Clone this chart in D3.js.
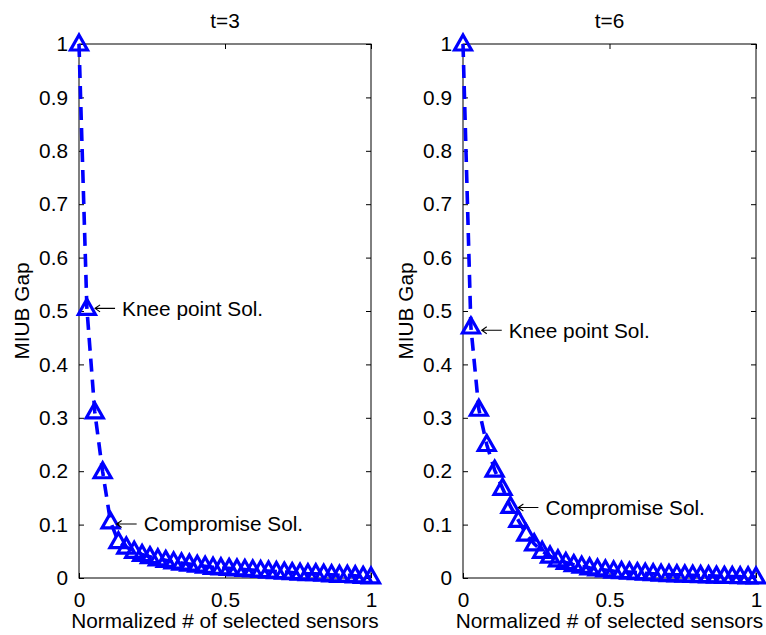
<!DOCTYPE html>
<html>
<head>
<meta charset="utf-8">
<script src="https://cdn.jsdelivr.net/npm/d3@7"></script>
<style>
  html, body { margin: 0; padding: 0; background: #fff; }
  svg text { font-family: "Liberation Sans", Arial, Helvetica, sans-serif; fill: #000; }
</style>
</head>
<body>
<svg id="chart" width="766" height="635"></svg>
<script>
// ---- data ----
const xNorm = [0, 0.027, 0.054, 0.081, 0.108, 0.135, 0.162, 0.189, 0.216, 0.243,
  0.270, 0.297, 0.324, 0.351, 0.378, 0.405, 0.432, 0.459, 0.486, 0.514,
  0.541, 0.568, 0.595, 0.622, 0.649, 0.676, 0.703, 0.730, 0.757, 0.784,
  0.811, 0.838, 0.865, 0.892, 0.919, 0.946, 0.973, 1.0];

const gapT3 = [1.0, 0.505, 0.311, 0.199, 0.105, 0.068, 0.058, 0.050, 0.044, 0.040,
  0.036, 0.033, 0.030, 0.028, 0.026, 0.024, 0.022, 0.020, 0.019, 0.018,
  0.017, 0.016, 0.015, 0.014, 0.013, 0.012, 0.011, 0.010, 0.009, 0.008,
  0.008, 0.007, 0.006, 0.005, 0.005, 0.004, 0.003, 0.002];

const gapT6 = [1.0, 0.470, 0.316, 0.250, 0.202, 0.168, 0.134, 0.108, 0.082, 0.064,
  0.050, 0.041, 0.034, 0.029, 0.025, 0.022, 0.019, 0.017, 0.015, 0.013,
  0.012, 0.011, 0.010, 0.009, 0.008, 0.007, 0.0065, 0.006, 0.0055, 0.005,
  0.0045, 0.004, 0.0035, 0.003, 0.0028, 0.0025, 0.0022, 0.002];

const panelTitles = ["t=3", "t=6"];
const xTicks = [0, 0.5, 1];
const xTickLabels = ["0", "0.5", "1"];
const yTicks = [0, 0.1, 0.2, 0.3, 0.4, 0.5, 0.6, 0.7, 0.8, 0.9, 1];
const yTickLabels = ["0", "0.1", "0.2", "0.3", "0.4", "0.5", "0.6", "0.7", "0.8", "0.9", "1"];
const xLabel = "Normalized # of selected sensors";
const yLabel = "MIUB Gap";

// annotations: [x, y, text] in data units (arrow-tip positions)
const notesT3 = [[0.055, 0.505, "Knee point Sol."], [0.129, 0.101, "Compromise Sol."]];
const notesT6 = [[0.064, 0.464, "Knee point Sol."], [0.189, 0.132, "Compromise Sol."]];

// ---- layout ----
const panels = [
  { x0: 79, x1: 371, title: panelTitles[0], ys: gapT3, notes: notesT3, ylabX: 22 },
  { x0: 463, x1: 756, title: panelTitles[1], ys: gapT6, notes: notesT6, ylabX: 406 }
];
const yTop = 44, yBot = 578;
const FS = 20.8;
const BLUE = "#0000ff";

const svg = d3.select("#chart");
svg.append("rect").attr("width", 766).attr("height", 635).attr("fill", "#fff");

panels.forEach(p => {
  const x = d3.scaleLinear().domain([0, 1]).range([p.x0, p.x1]);
  const y = d3.scaleLinear().domain([0, 1]).range([yBot, yTop]);
  const g = svg.append("g");

  // box
  g.append("rect").attr("x", p.x0).attr("y", yTop)
    .attr("width", p.x1 - p.x0).attr("height", yBot - yTop)
    .attr("fill", "none").attr("stroke", "#000").attr("stroke-width", 1);

  // axes with inward ticks
  const tl = 5;
  const axB = d3.axisBottom(x).tickValues(xTicks).tickFormat((d, i) => xTickLabels[i]).tickSizeInner(-tl).tickSizeOuter(0).tickPadding(14);
  const axT = d3.axisTop(x).tickValues(xTicks).tickFormat("").tickSizeInner(-tl).tickSizeOuter(0);
  const axL = d3.axisLeft(y).tickValues(yTicks).tickFormat((d, i) => yTickLabels[i]).tickSizeInner(-tl).tickSizeOuter(0).tickPadding(11);
  const axR = d3.axisRight(y).tickValues(yTicks).tickFormat("").tickSizeInner(-tl).tickSizeOuter(0);

  [[axB, `translate(0,${yBot})`], [axT, `translate(0,${yTop})`], [axL, `translate(${p.x0},0)`], [axR, `translate(${p.x1},0)`]].forEach(([ax, tr]) => {
    const a = g.append("g").attr("transform", tr).call(ax);
    a.select(".domain").remove();
    a.selectAll("line").attr("stroke", "#000").attr("stroke-width", 1);
    a.selectAll("text").attr("font-size", FS).attr("font-family", "Liberation Sans, Arial, sans-serif").attr("fill", "#000");
  });

  // title
  g.append("text").attr("x", (p.x0 + p.x1) / 2).attr("y", 28)
    .attr("text-anchor", "middle").attr("font-size", FS).text(p.title);
  // x label
  g.append("text").attr("x", (p.x0 + p.x1) / 2).attr("y", 628)
    .attr("text-anchor", "middle").attr("font-size", FS).text(xLabel);
  // y label
  g.append("text").attr("transform", `translate(${p.ylabX + 7},${(yTop + yBot) / 2}) rotate(-90)`)
    .attr("text-anchor", "middle").attr("font-size", FS).text(yLabel);

  // line
  const pts = xNorm.map((xv, i) => [xv, p.ys[i]]);
  const line = d3.line().x(d => x(d[0])).y(d => y(d[1]));
  g.append("path").attr("d", line(pts)).attr("fill", "none")
    .attr("stroke", BLUE).attr("stroke-width", 3.6).attr("stroke-dasharray", "13,8");

  // triangle markers
  const tri = "M0,-9L8.5,6L-8.5,6Z";
  g.selectAll(".mk").data(pts).enter().append("path")
    .attr("transform", d => `translate(${x(d[0])},${y(d[1])})`)
    .attr("d", tri).attr("fill", "none").attr("stroke", BLUE).attr("stroke-width", 3.2)
    .attr("stroke-linejoin", "miter");

  // annotations: arrow + text
  p.notes.forEach(n => {
    const ax = x(n[0]), ay = y(n[1]);
    g.append("path")
      .attr("d", `M${ax},${ay}L${ax + 20},${ay}M${ax + 5},${ay - 3.5}L${ax},${ay}L${ax + 5},${ay + 3.5}`)
      .attr("fill", "none").attr("stroke", "#000").attr("stroke-width", 1.1);
    g.append("text").attr("x", ax + 27).attr("y", ay).attr("dy", "0.35em")
      .attr("font-size", FS).text(n[2]);
  });
});
</script>
</body>
</html>
